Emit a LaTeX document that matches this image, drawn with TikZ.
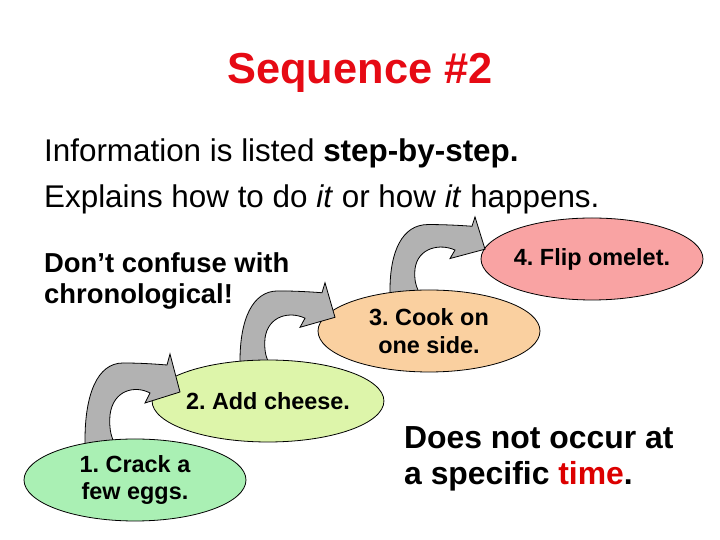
\documentclass[tikz,border=0pt]{standalone}
\usepackage{fontspec}
\setmainfont{Liberation Sans}
\usetikzlibrary{shapes.geometric, calc}
\frenchspacing

\definecolor{titlered}{RGB}{230,10,20}
\definecolor{timered}{RGB}{220,0,0}
\definecolor{greenfill}{RGB}{170,240,180}
\definecolor{limefill}{RGB}{221,245,170}
\definecolor{orangefill}{RGB}{250,208,160}
\definecolor{pinkfill}{RGB}{249,163,163}
\definecolor{arrowgray}{RGB}{178,178,178}

% bent block arrow, base corner at #1, squashed by #2
\newcommand{\bentarrow}[2]{%
  \begin{scope}[shift={#1}, yscale=#2]
    \filldraw[turn] (0,-10) -- (0,0) .. controls (0,45) and (12,77) .. (38,77)
      .. controls (55,77) and (70,76) .. (82,75) -- (85,86) -- (95,48)
      -- (60,37) -- (65,47) .. controls (50,55) and (28,50) .. (25,25)
      .. controls (24,12) and (26,5) .. (28,0) -- (28,-10) -- cycle;
  \end{scope}}

\begin{document}
\begin{tikzpicture}[
  x=1bp, y=1bp,
  title/.style={font=\fontsize{43.5}{48}\selectfont\bfseries, text=titlered, inner sep=0pt},
  body/.style={font=\fontsize{31.5}{37}\selectfont, inner sep=0pt},
  note/.style={font=\fontsize{27.5}{32}\selectfont\bfseries, align=left, inner sep=0pt},
  stepnode/.style={ellipse, draw=black, line width=0.8bp, minimum width=222bp,
                   minimum height=82bp, inner sep=0pt, align=center,
                   font=\fontsize{23.5}{28}\selectfont\bfseries},
  turn/.style={fill=arrowgray, draw=black, line width=0.8bp},
]
\useasboundingbox (0,0) rectangle (720,540);
\node[title, anchor=base] (head) at (360,456) {Sequence \#2};
\node[body, anchor=base west] (info) at (44,378) {Information is listed \textbf{step-by-step.}};
\node[body, anchor=base west] (how) at (44,332) {Explains how to do \textit{it} or how \textit{it} happens.};
% base of these two is the last line
\node[note, anchor=base west] (chrono) at (44,236) {Don’t confuse with\\chronological!};
\node[note, font=\fontsize{32}{37}\selectfont\bfseries, anchor=base west] (time) at (404,55)
  {Does not occur at\\a specific \textcolor{timered}{time}.};
% steps, top one first so each arrow sits between its two ellipses
\coordinate (p1) at (135,60);
\coordinate (p2) at (268,139);
\coordinate (p3) at (429,209);
\coordinate (p4) at (592,281);
\node[stepnode, fill=pinkfill] (flip) at (p4) {4. Flip omelet.};
\bentarrow{($(p3)+(-39,41)$)}{0.85}
\node[stepnode, fill=orangefill] (cook) at (p3) {3. Cook on\\one side.};
\bentarrow{($(p2)+(-28,40)$)}{0.91}
\node[stepnode, fill=limefill] (cheese) at (p2) {2. Add cheese.};
\bentarrow{($(p1)+(-50,40)$)}{1}
\node[stepnode, fill=greenfill] (crack) at (p1) {1. Crack a\\few eggs.};
\end{tikzpicture}
\end{document}
